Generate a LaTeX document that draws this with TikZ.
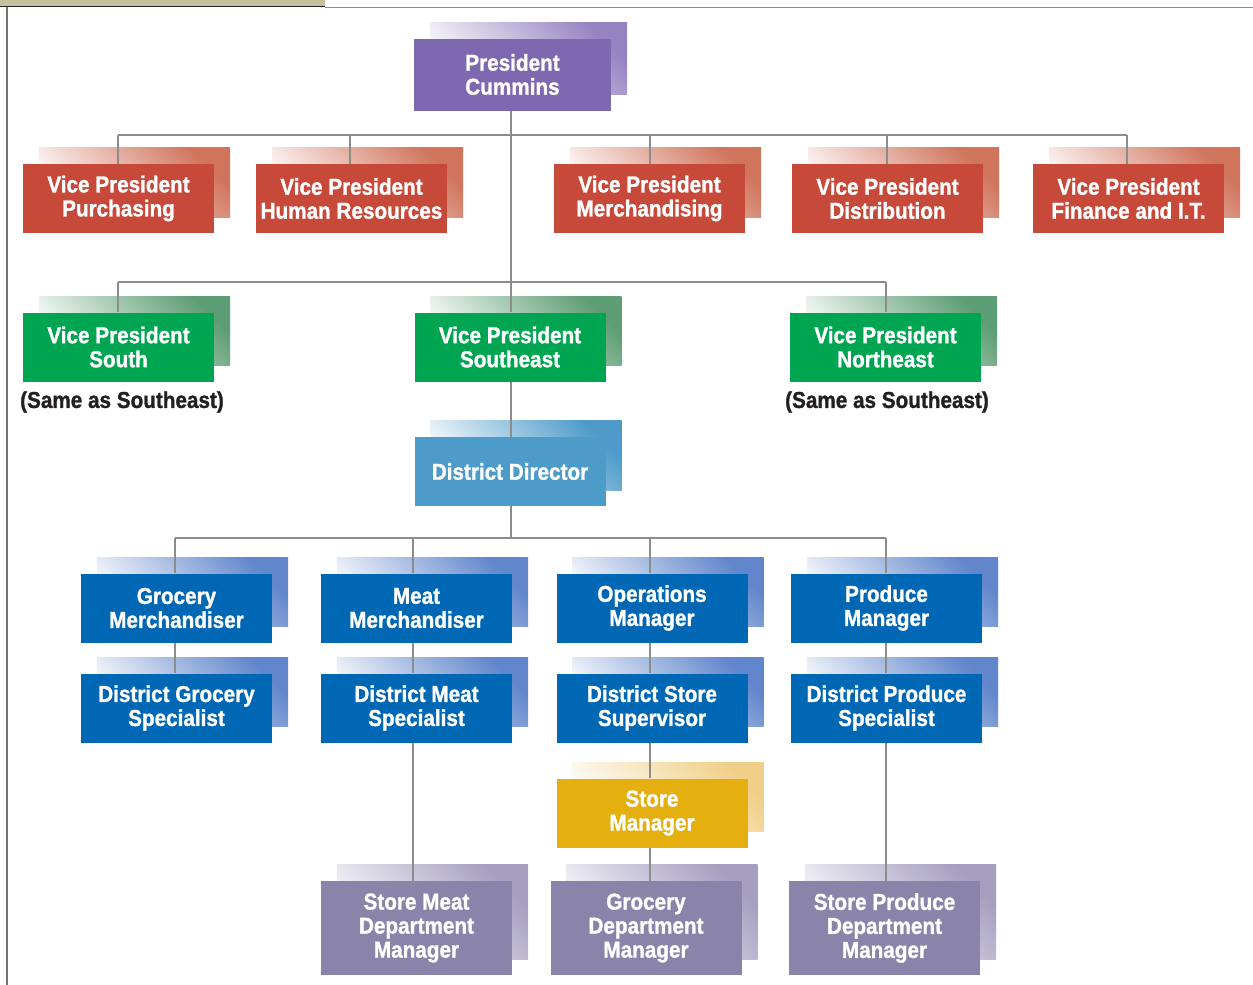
\documentclass[tikz,border=0pt]{standalone}
\usepackage{fontspec}
\newfontfamily\orgfont{Liberation Sans Bold}[FakeStretch=0.9, FakeBold=1.2]
\usetikzlibrary{backgrounds}
\definecolor{cpres}{HTML}{7E68B0}\definecolor{spres}{HTML}{9683C2}
\definecolor{cred}{HTML}{C7493A}\definecolor{sred}{HTML}{D0745C}
\definecolor{cgreen}{HTML}{00A551}\definecolor{sgreen}{HTML}{5E9E74}
\definecolor{cdd}{HTML}{4C9BC8}\definecolor{sdd}{HTML}{4E9BCB}
\definecolor{cblue}{HTML}{0067B4}\definecolor{sblue}{HTML}{6186CC}
\definecolor{cyel}{HTML}{E5B00F}\definecolor{syel}{HTML}{F0D088}
\definecolor{cpur}{HTML}{8A83AA}\definecolor{spur}{HTML}{A69FC0}
\definecolor{cline}{HTML}{8C8C8C}
\definecolor{ctan}{HTML}{C5C19C}
\definecolor{ctext}{HTML}{231F20}
\tikzset{
  orgbox/.style={draw=none, fill=#1, text=white, inner sep=0pt, align=center,
    minimum width=191pt, minimum height=69pt,
    font=\orgfont\fontsize{23}{24}\selectfont},
  conn/.style={draw=cline, line width=2.7pt},
  note/.style={text=ctext, inner sep=0pt, font=\orgfont\fontsize{23}{24}\selectfont},
}
\newcommand{\shadowbox}[2]{\shade[bottom color=white, top color=#2, shading angle=-45]
  ([xshift=16pt,yshift=16pt]#1.south west) rectangle ([xshift=16pt,yshift=16pt]#1.north east);}
\begin{document}
\begin{tikzpicture}[x=1pt,y=-1pt]
\useasboundingbox (0,0) rectangle (1253,985);
% frame
\fill[ctan] (0,0) rectangle (325,6);
\draw[line width=1pt, black!85] (0,6.5) -- (325,6.5);
\draw[line width=1pt, black!45] (325,7) -- (1253,7);
\draw[line width=1.5pt, black!55] (6.8,6.5) -- (6.8,985);
% nodes
\node[orgbox=cpres, minimum width=197pt, minimum height=72pt] (pres) at (512.5,74.5) {President\\Cummins};
\node[orgbox=cred] (vpp) at (118.5,198.5) {Vice President\\Purchasing};
\node[orgbox=cred] (vph) at (351.5,198.5) {Vice President\\Human Resources};
\node[orgbox=cred] (vpm) at (649.5,198.5) {Vice President\\Merchandising};
\node[orgbox=cred] (vpd) at (887.5,198.5) {Vice President\\Distribution};
\node[orgbox=cred] (vpf) at (1128.5,198.5) {Vice President\\Finance and I.T.};
\node[orgbox=cgreen] (vps) at (118.5,347) {Vice President\\South};
\node[orgbox=cgreen] (vpse) at (510,347) {Vice President\\Southeast};
\node[orgbox=cgreen] (vpne) at (885.5,347) {Vice President\\Northeast};
\node[note] (n1) at (122,402) {(Same as Southeast)};
\node[note] (n2) at (887,402) {(Same as Southeast)};
\node[orgbox=cdd] (dd) at (510,471.5) {District Director};
\node[orgbox=cblue] (gm) at (176.5,608) {Grocery\\Merchandiser};
\node[orgbox=cblue] (mm) at (416.5,608) {Meat\\Merchandiser};
\node[orgbox=cblue] (om) at (652,608) {Operations\\Manager};
\node[orgbox=cblue] (pm) at (886.5,608) {Produce\\Manager};
\node[orgbox=cblue] (dgs) at (176.5,708) {District Grocery\\Specialist};
\node[orgbox=cblue] (dms) at (416.5,708) {District Meat\\Specialist};
\node[orgbox=cblue] (dss) at (652,708) {District Store\\Supervisor};
\node[orgbox=cblue] (dps) at (886.5,708) {District Produce\\Specialist};
\node[orgbox=cyel] (sm) at (652,813) {Store\\Manager};
\node[orgbox=cpur, minimum height=94pt] (smdm) at (416.5,928) {Store Meat\\Department\\Manager};
\node[orgbox=cpur, minimum height=94pt] (gdm) at (646,928) {Grocery\\Department\\Manager};
\node[orgbox=cpur, minimum height=94pt] (spdm) at (884.5,928) {Store Produce\\Department\\Manager};
\coordinate (rb) at (511,135);
\coordinate (gb) at (511,282);
\coordinate (bb) at (511,538);
\coordinate (cx1) at (118,0);\coordinate (cx2) at (350,0);\coordinate (cx3) at (650,0);
\coordinate (cx4) at (887,0);\coordinate (cx5) at (1127,0);
\coordinate (bx1) at (175,0);\coordinate (bx2) at (413,0);\coordinate (bx3) at (650,0);\coordinate (bx4) at (886,0);
\coordinate (mx) at (511,0);
\begin{pgfonlayer}{background}
\shadowbox{pres}{spres}
\foreach \n in {vpp,vph,vpm,vpd,vpf}{\shadowbox{\n}{sred}}
\foreach \n in {vps,vpse,vpne}{\shadowbox{\n}{sgreen}}
\shadowbox{dd}{sdd}
\foreach \n in {gm,mm,om,pm,dgs,dms,dss,dps}{\shadowbox{\n}{sblue}}
\shadowbox{sm}{syel}
\foreach \n in {smdm,gdm,spdm}{\shadowbox{\n}{spur}}
% connectors
\draw[conn] (mx |- pres.south) -- (mx |- vpse.north);
\draw[conn] (mx |- vpse.south) -- (mx |- dd.north);
\draw[conn] (mx |- dd.south) -- (bb);
\draw[conn] (cx1 |- rb) -- (cx5 |- rb);
\draw[conn] (cx1 |- rb) -- (cx1 |- vpp.north);
\draw[conn] (cx2 |- rb) -- (cx2 |- vph.north);
\draw[conn] (cx3 |- rb) -- (cx3 |- vpm.north);
\draw[conn] (cx4 |- rb) -- (cx4 |- vpd.north);
\draw[conn] (cx5 |- rb) -- (cx5 |- vpf.north);
\draw[conn] (cx1 |- gb) -- (bx4 |- gb);
\draw[conn] (cx1 |- gb) -- (cx1 |- vps.north);
\draw[conn] (bx4 |- gb) -- (bx4 |- vpne.north);
\draw[conn] (bx1 |- bb) -- (bx4 |- bb);
\draw[conn] (bx1 |- bb) -- (bx1 |- gm.north);
\draw[conn] (bx2 |- bb) -- (bx2 |- mm.north);
\draw[conn] (bx3 |- bb) -- (bx3 |- om.north);
\draw[conn] (bx4 |- bb) -- (bx4 |- pm.north);
\draw[conn] (bx1 |- gm.south) -- (bx1 |- dgs.north);
\draw[conn] (bx2 |- mm.south) -- (bx2 |- dms.north);
\draw[conn] (bx3 |- om.south) -- (bx3 |- dss.north);
\draw[conn] (bx4 |- pm.south) -- (bx4 |- dps.north);
\draw[conn] (bx2 |- dms.south) -- (bx2 |- smdm.north);
\draw[conn] (bx3 |- dss.south) -- (bx3 |- sm.north);
\draw[conn] (bx3 |- sm.south) -- (bx3 |- gdm.north);
\draw[conn] (bx4 |- dps.south) -- (bx4 |- spdm.north);
\end{pgfonlayer}
\end{tikzpicture}
\end{document}
